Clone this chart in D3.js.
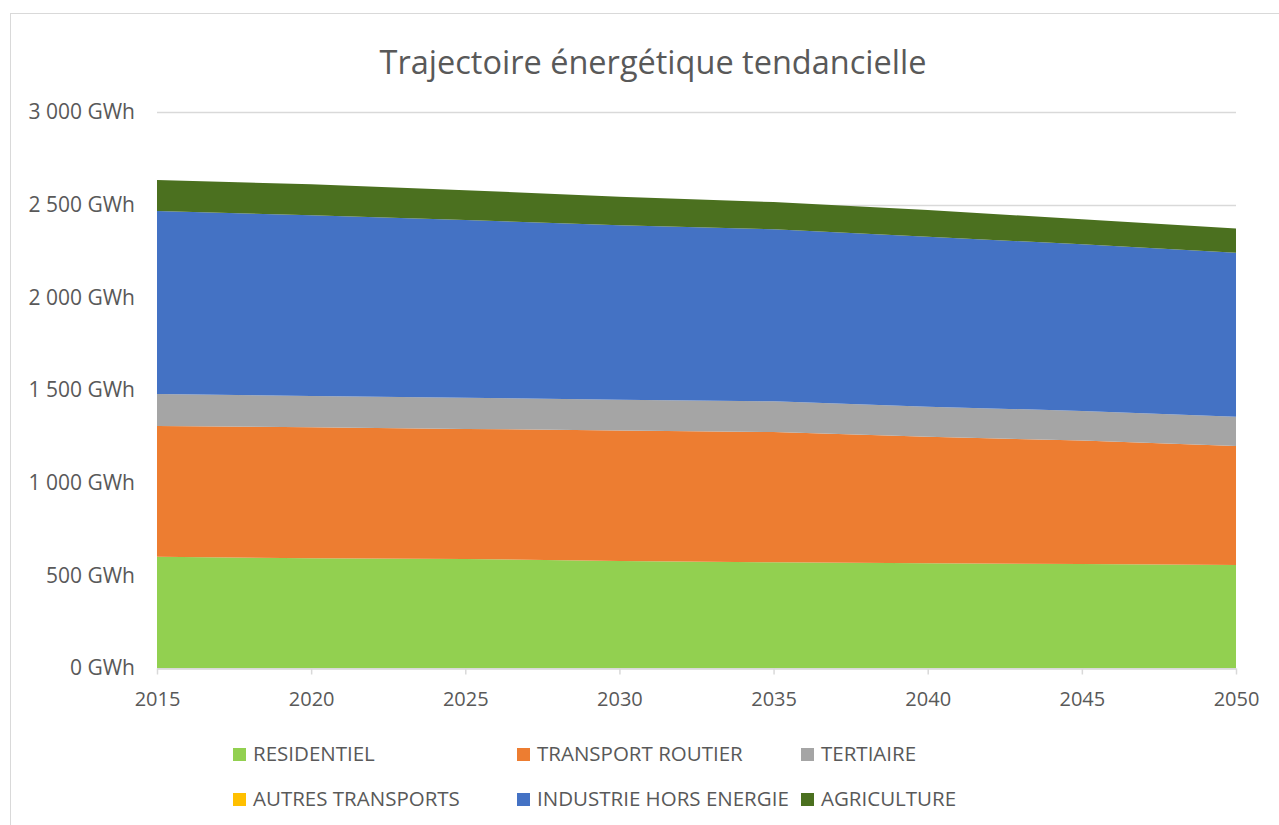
<!DOCTYPE html>
<html>
<head>
<meta charset="utf-8">
<script src="https://cdn.jsdelivr.net/npm/d3@7"></script>
<style>
  html, body { margin: 0; padding: 0; background: #ffffff; }
  svg { display: block; }
  text { font-family: "Open Sans", "Noto Sans", sans-serif; fill: #595959; }
</style>
</head>
<body>
<svg id="chart" width="1279" height="825"></svg>
<script>
const years = [2015, 2020, 2025, 2030, 2035, 2040, 2045, 2050];
const residentiel = [600, 592, 588, 577, 570, 565, 561, 556];
const transportRoutier = [706, 707, 702, 705, 703, 683, 666, 642];
const tertiaire = [172, 169, 168, 166, 166, 162, 160, 158];
const autresTransports = [0, 0, 0, 0, 0, 0, 0, 0];
const industrie = [988, 975, 959, 941, 928, 917, 899, 885];
const agriculture = [167, 167, 161, 154, 147, 144, 135, 131];
const seriesNames = ["RESIDENTIEL", "TRANSPORT ROUTIER", "TERTIAIRE", "AUTRES TRANSPORTS", "INDUSTRIE HORS ENERGIE", "AGRICULTURE"];
const seriesColors = ["#92d050", "#ed7d31", "#a5a5a5", "#ffc000", "#4472c4", "#4b701f"];
const yTicks = [0, 500, 1000, 1500, 2000, 2500, 3000];
const title = "Trajectoire énergétique tendancielle";

const seriesValues = [residentiel, transportRoutier, tertiaire, autresTransports, industrie, agriculture];
const keys = seriesNames;
const table = years.map((y, i) => {
  const row = { year: y };
  keys.forEach((k, j) => row[k] = seriesValues[j][i]);
  return row;
});

const svg = d3.select("#chart");
const margin = { left: 157, right: 1236, top: 112, bottom: 668 };

// outer border
svg.append("rect")
  .attr("x", 10.5).attr("y", 13.5)
  .attr("width", 1290).attr("height", 840)
  .attr("fill", "none").attr("stroke", "#d9d9d9").attr("stroke-width", 1);

const x = d3.scaleLinear().domain([2015, 2050]).range([margin.left, margin.right]);
const y = d3.scaleLinear().domain([0, 3000]).range([margin.bottom, margin.top]);

// gridlines
svg.append("g")
  .selectAll("line")
  .data(yTicks)
  .join("line")
  .attr("x1", margin.left).attr("x2", margin.right)
  .attr("y1", d => Math.round(y(d)) + 0.5).attr("y2", d => Math.round(y(d)) + 0.5)
  .attr("stroke", "#d9d9d9").attr("stroke-width", 1.5);

// stacked areas
const stack = d3.stack().keys(keys);
const stacked = stack(table);
const area = d3.area()
  .x(d => x(d.data.year))
  .y0(d => y(d[0]))
  .y1(d => y(d[1]));

svg.append("g")
  .selectAll("path")
  .data(stacked)
  .join("path")
  .attr("d", area)
  .attr("fill", (d, i) => seriesColors[i]);

// x axis
const xAxis = d3.axisBottom(x)
  .tickValues(years)
  .tickFormat(d3.format("d"))
  .tickSize(6)
  .tickSizeOuter(0);
const gx = svg.append("g")
  .attr("transform", `translate(0,${margin.bottom + 0.5})`)
  .call(xAxis);
gx.select(".domain").attr("stroke", "#d9d9d9").attr("stroke-width", 1.5);
gx.selectAll(".tick line").attr("stroke", "#d9d9d9").attr("stroke-width", 1.5);
gx.selectAll(".tick text")
  .attr("dy", null).attr("y", 37)
  .style("font-family", "'Open Sans', sans-serif")
  .style("font-size", "20px").attr("fill", "#595959");

// y axis labels
const fmt = v => d3.format(",")(v).replace(/,/g, " ") + " GWh";
const yAxis = d3.axisLeft(y).tickValues(yTicks).tickFormat(fmt).tickSize(0).tickPadding(0);
const gy = svg.append("g")
  .attr("transform", `translate(135,0)`)
  .call(yAxis);
gy.select(".domain").remove();
gy.selectAll(".tick text")
  .attr("x", 0)
  .style("font-family", "'Open Sans', sans-serif")
  .style("font-size", "21px").attr("fill", "#595959");

// title
svg.append("text")
  .attr("x", 653).attr("y", 74)
  .attr("text-anchor", "middle")
  .style("font-size", "32.5px")
  .text(title);

// legend
const legendCols = [233, 517, 801];
const legendRows = [754, 799];
const legend = svg.append("g");
seriesNames.forEach((name, i) => {
  const cx = legendCols[i % 3];
  const cy = legendRows[Math.floor(i / 3)];
  legend.append("rect")
    .attr("x", cx).attr("y", cy - 6)
    .attr("width", 13).attr("height", 13)
    .attr("fill", seriesColors[i]);
  legend.append("text")
    .attr("x", cx + 20).attr("y", cy + 7)
    .style("font-size", "20.5px")
    .text(name);
});
</script>
</body>
</html>
